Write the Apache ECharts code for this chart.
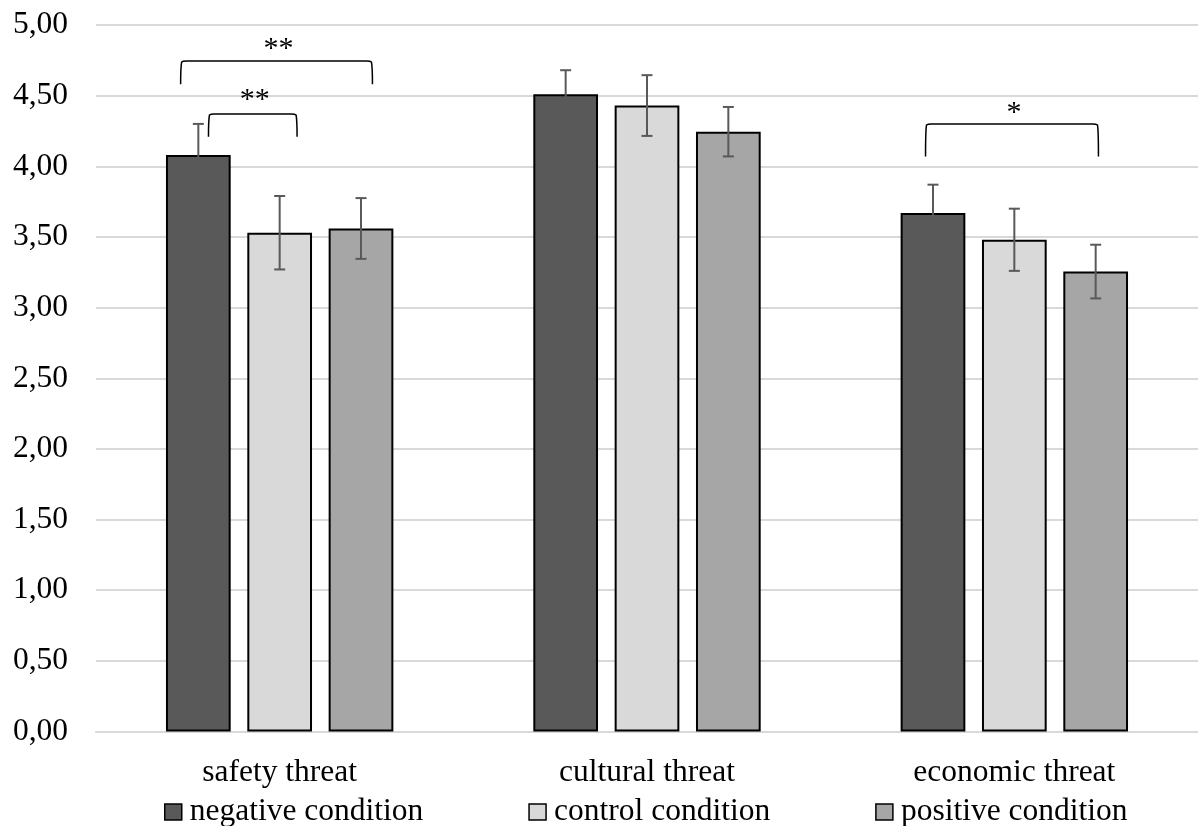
<!DOCTYPE html>
<html>
<head>
<meta charset="utf-8">
<script src="https://cdn.jsdelivr.net/npm/echarts@6/dist/echarts.min.js"></script>
<style>html,body{margin:0;padding:0;background:#fff;overflow:hidden}#c{width:1198px;height:826px}</style>
</head>
<body>
<div id="c"></div>
<script>
const categories = ['safety threat', 'cultural threat', 'economic threat'];
const seriesNames = ['negative condition', 'control condition', 'positive condition'];
const negative = [4.08, 4.51, 3.67];
const control = [3.53, 4.43, 3.48];
const positive = [3.56, 4.245, 3.255];
const negErr = [0.22, 0.17, 0.20];
const ctrlErr = [0.26, 0.215, 0.22];
const posErr = [0.215, 0.175, 0.19];
const yTicks = ['0,00','0,50','1,00','1,50','2,00','2,50','3,00','3,50','4,00','4,50','5,00'];
// brackets: [category, left offset (band fraction), right offset, top value, bottom value, label, label value]
const brackets = [
  [0, -0.2696, 0.2526, 4.745, 4.58, '**', 4.828],
  [0, -0.1938, 0.0474, 4.37, 4.21, '**', 4.467],
  [2, -0.2417, 0.229, 4.30, 4.07, '*', 4.377]
];

const values = [negative, control, positive];
const errs = [negErr, ctrlErr, posErr];
const colors = ['#595959', '#d9d9d9', '#a6a6a6'];
const CAT_GAP = 0.381, BAR_GAP = 0.257;

const errData = [];
for (let s = 0; s < 3; s++) for (let c = 0; c < 3; c++)
  errData.push([c, values[s][c] - errs[s][c], values[s][c] + errs[s][c], s]);

const chart = echarts.init(document.getElementById('c'));
const font = 'Liberation Serif, Times New Roman, serif';
const FS = 31.5;

const barSeries = seriesNames.map((n, i) => ({
  name: n, type: 'bar', data: values[i],
  barGap: (BAR_GAP * 100) + '%', barCategoryGap: (CAT_GAP * 100) + '%',
  itemStyle: { color: colors[i], borderColor: '#000', borderWidth: 2 },
  z: 2
}));

chart.setOption({
  animation: false,
  backgroundColor: '#fff',
  grid: { left: 96, right: -7, top: 25, bottom: 94.5, containLabel: false },
  legend: {
    data: seriesNames, left: 159, top: 791, itemGap: 105,
    itemWidth: 17, itemHeight: 16, icon: 'rect',
    itemStyle: { borderColor: '#000', borderWidth: 1.5 },
    textStyle: { fontFamily: font, fontSize: FS, color: '#000', padding: [0, 0, 0, 3] }
  },
  xAxis: {
    type: 'category', data: categories,
    axisLine: { show: true, lineStyle: { color: '#d9d9d9', width: 2 } },
    axisTick: { show: false },
    axisLabel: { fontFamily: font, fontSize: FS, color: '#000', margin: 25.5 }
  },
  yAxis: {
    type: 'value', min: 0, max: 5, interval: 0.5,
    axisLine: { show: false }, axisTick: { show: false },
    splitLine: { lineStyle: { color: '#d9d9d9', width: 2 } },
    axisLabel: { fontFamily: font, fontSize: FS, color: '#000', margin: 28,
      formatter: (v) => yTicks[Math.round(v / 0.5)] }
  },
  series: barSeries.concat([
    {
      type: 'custom', name: 'err', data: errData, z: 5, silent: true,
      renderItem: function (params, api) {
        const c = api.value(0), lo = api.value(1), hi = api.value(2), s = api.value(3);
        const band = api.size([1, 0])[0];
        const group = band * (1 - CAT_GAP);
        const bw = group / (3 + 2 * BAR_GAP);
        const center = api.coord([c, 0])[0] + (s - 1) * bw * (1 + BAR_GAP);
        const yl = api.coord([c, lo])[1], yh = api.coord([c, hi])[1];
        const cap = 5.5;
        const st = { stroke: '#595959', lineWidth: 2 };
        return { type: 'group', children: [
          { type: 'line', shape: { x1: center, y1: yl, x2: center, y2: yh }, style: st },
          { type: 'line', shape: { x1: center - cap, y1: yh, x2: center + cap, y2: yh }, style: st },
          { type: 'line', shape: { x1: center - cap, y1: yl, x2: center + cap, y2: yl }, style: st }
        ]};
      }
    },
    {
      type: 'custom', name: 'brackets', data: brackets, z: 6, silent: true,
      renderItem: function (params, api) {
        const b = brackets[params.dataIndex];
        const band = api.size([1, 0])[0];
        const cx = api.coord([b[0], 0])[0];
        const xl = cx + b[1] * band, xr = cx + b[2] * band;
        const yt = api.coord([b[0], b[3]])[1], yb = api.coord([b[0], b[4]])[1];
        const yLab = api.coord([b[0], b[6]])[1];
        const r = 6;
        const path = 'M' + xl + ' ' + yb + ' Q' + xl + ' ' + (yt + r) + ' ' + (xl + 1) + ' ' + (yt + 1) +
          ' Q' + (xl + 2) + ' ' + yt + ' ' + (xl + r) + ' ' + yt +
          ' L' + (xr - r) + ' ' + yt + ' Q' + (xr - 2) + ' ' + yt + ' ' + (xr - 1) + ' ' + (yt + 1) +
          ' Q' + xr + ' ' + (yt + r) + ' ' + xr + ' ' + yb;
        return { type: 'group', children: [
          { type: 'path', shape: { pathData: path }, style: { stroke: '#000', lineWidth: 1.5, fill: null } },
          { type: 'text', x: (xl + xr) / 2 + 2, y: yLab,
            style: { text: b[5], fontFamily: font, fontSize: 30, fill: '#000', align: 'center', verticalAlign: 'middle' } }
        ]};
      }
    }
  ])
});
</script>
</body>
</html>
